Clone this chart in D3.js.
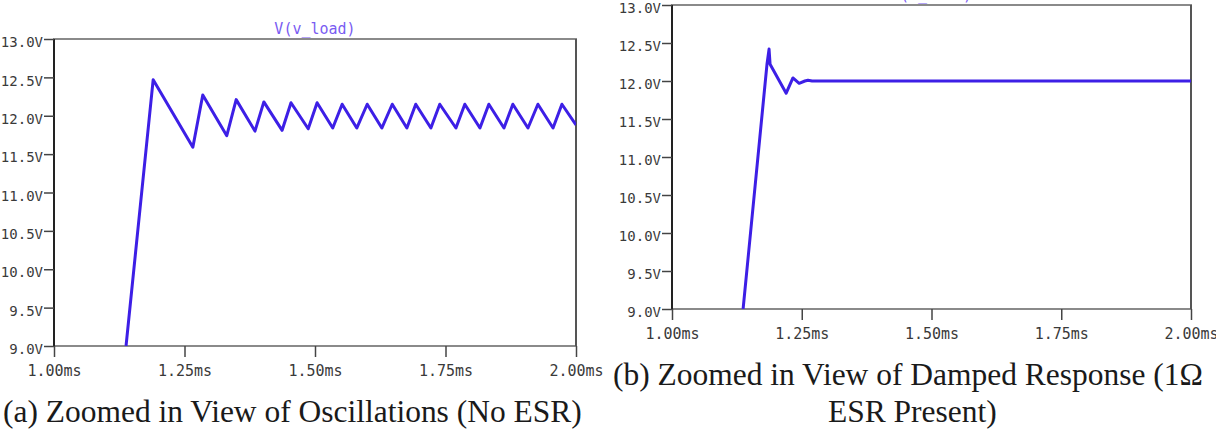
<!DOCTYPE html>
<html>
<head>
<meta charset="utf-8">
<script src="https://cdn.jsdelivr.net/npm/d3@7"></script>
<style>
  body { margin: 0; background: #fff; }
</style>
</head>
<body>
<div id="canvas"></div>
<script>
"use strict";

/* ---------------- DATA ---------------- */

// (a) no ESR: time in ms, voltage in V
let timeA = [1.138, 1.190, 1.266, 1.285, 1.331, 1.349, 1.385, 1.402, 1.437, 1.454,
    1.487, 1.504, 1.534, 1.552, 1.580, 1.600, 1.628, 1.648, 1.676, 1.693,
    1.722, 1.739, 1.770, 1.787, 1.816, 1.833, 1.862, 1.879, 1.908, 1.927,
    1.956, 1.973, 2.000];
let voltsA = [9.00, 12.47, 11.59, 12.27, 11.74, 12.21, 11.80, 12.18, 11.81, 12.17,
    11.83, 12.17, 11.84, 12.15, 11.84, 12.15, 11.84, 12.15, 11.84, 12.15,
    11.84, 12.15, 11.84, 12.15, 11.84, 12.15, 11.84, 12.15, 11.84, 12.15,
    11.84, 12.15, 11.88];

// (b) 1 ohm ESR
let timeB = [1.137, 1.183, 1.187, 1.189, 1.220, 1.233, 1.245, 1.256, 1.262, 1.270, 2.000];
let voltsB = [9.00, 12.22, 12.42, 12.22, 11.84, 12.04, 11.97, 12.00, 12.01, 12.00, 12.00];

let yTicks = [9.0, 9.5, 10.0, 10.5, 11.0, 11.5, 12.0, 12.5, 13.0];
let xTicks = [1.00, 1.25, 1.50, 1.75, 2.00];

let traceName = "V(v_load)";
let captionA = "(a) Zoomed in View of Oscillations (No ESR)";
let captionB1 = "(b) Zoomed in View of Damped Response (1Ω";
let captionB2 = "ESR Present)";

/* ---------------- SVG ---------------- */

let svgWidth = 1216;
let svgHeight = 434;

let svg = d3.select("#canvas")
    .append("svg")
    .attr("width", svgWidth)
    .attr("height", svgHeight)
    .style("display", "block");

svg.append("rect")
    .attr("width", svgWidth)
    .attr("height", svgHeight)
    .attr("fill", "#fff");

let monoFont = "'DejaVu Sans Mono', monospace";
let serifFont = "'Liberation Serif', serif";
let traceColor = "#3d1fe6";

/* ---------------- ONE PANEL ---------------- */

function drawPanel(id, box, times, volts) {

    let xScale = d3.scaleLinear()
        .domain([1, 2])
        .range([box.left, box.right]);

    let yScale = d3.scaleLinear()
        .domain([9, 13])
        .range([box.bottom, box.top]);

    let g = svg.append("g");

    // frame: grey top/bottom, darker sides
    g.append("rect")
        .attr("x", box.left)
        .attr("y", box.top)
        .attr("width", box.right - box.left)
        .attr("height", box.bottom - box.top)
        .attr("fill", "none")
        .attr("stroke", "#8a8a8a")
        .attr("stroke-width", 2);

    g.append("line")
        .attr("x1", box.right).attr("x2", box.right)
        .attr("y1", box.top).attr("y2", box.bottom)
        .attr("stroke", "#555")
        .attr("stroke-width", 2);

    g.append("line")
        .attr("x1", box.left).attr("x2", box.left)
        .attr("y1", box.top).attr("y2", box.bottom)
        .attr("stroke", "#222")
        .attr("stroke-width", 2);

    // axes
    let yAxis = d3.axisLeft(yScale)
        .tickValues(yTicks)
        .tickSize(10)
        .tickPadding(1)
        .tickFormat(function (d) { return d.toFixed(1) + "V"; });

    let yg = g.append("g")
        .attr("transform", "translate(" + box.left + ",0)")
        .call(yAxis);

    let xAxis = d3.axisBottom(xScale)
        .tickValues(xTicks)
        .tickSize(11)
        .tickPadding(8)
        .tickFormat(function (d) { return d.toFixed(2) + "ms"; });

    let xg = g.append("g")
        .attr("transform", "translate(0," + box.bottom + ")")
        .call(xAxis);

    [yg, xg].forEach(function (ax) {
        ax.select(".domain").remove();
        ax.selectAll("line").attr("stroke", "#444").attr("stroke-width", 1.5);
        ax.selectAll("text")
            .attr("fill", "#3a3a3a")
            .style("font-family", monoFont)
            .style("font-size", "15px");
    });
    yg.selectAll("text")
        .attr("dy", "0.55em")
        .style("font-size", "14px");

    // trace title
    g.append("text")
        .attr("x", (box.left + box.right) / 2)
        .attr("y", box.top - 5)
        .attr("text-anchor", "middle")
        .attr("fill", "#7a5cf2")
        .style("font-family", monoFont)
        .style("font-size", "15px")
        .text(traceName);

    // clip the trace to the plot
    svg.append("clipPath")
        .attr("id", "clip" + id)
        .append("rect")
        .attr("x", box.left)
        .attr("y", box.top)
        .attr("width", box.right - box.left)
        .attr("height", box.bottom - box.top);

    let points = times.map(function (t, i) { return [t, volts[i]]; });

    let line = d3.line()
        .x(function (d) { return xScale(d[0]); })
        .y(function (d) { return yScale(d[1]); });

    g.append("path")
        .datum(points)
        .attr("clip-path", "url(#clip" + id + ")")
        .attr("d", line)
        .attr("fill", "none")
        .attr("stroke", traceColor)
        .attr("stroke-width", 3)
        .attr("stroke-linejoin", "round");
}

drawPanel("A", { left: 54, right: 576, top: 39, bottom: 346 }, timeA, voltsA);
drawPanel("B", { left: 672, right: 1191, top: 5, bottom: 309 }, timeB, voltsB);

/* ---------------- CAPTIONS ---------------- */

function addCaption(x, y, str) {
    return svg.append("text")
        .attr("x", x)
        .attr("y", y)
        .attr("fill", "#1a1a1a")
        .style("font-family", serifFont)
        .style("font-size", "26px")
        .text(str);
}

let capA = addCaption(3, 422, captionA);

// fit caption (a) to its width in the picture, use same size for (b)
let measured = capA.node().getComputedTextLength();
let fontSize = 26 * 579 / measured;
capA.style("font-size", fontSize + "px");

addCaption(613, 385, captionB1).style("font-size", fontSize + "px");
addCaption(828, 422, captionB2).style("font-size", fontSize + "px");
</script>
</body>
</html>
